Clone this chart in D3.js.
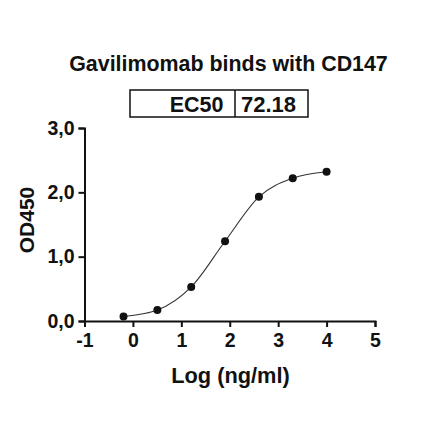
<!DOCTYPE html>
<html>
<head>
<meta charset="utf-8">
<script src="https://cdn.jsdelivr.net/npm/d3@7"></script>
<style>
  body { margin: 0; background: #fff; }
  text { font-family: "Liberation Sans", Arial, sans-serif; font-weight: bold; fill: #111; }
</style>
</head>
<body>
<div id="chart"></div>
<script>
// data: log10 of concentration (5-fold dilutions) and OD450
const logConc = [-0.194, 0.505, 1.204, 1.903, 2.602, 3.301, 4.0];
const od450 = [0.07, 0.17, 0.53, 1.24, 1.93, 2.22, 2.32];
const xTicks = [-1, 0, 1, 2, 3, 4, 5];
const yTicks = [0, 1, 2, 3];
const ec50Label = "EC50";
const ec50Value = "72.18";

const svg = d3.select("#chart")
  .append("svg")
  .attr("width", 440)
  .attr("height", 441);

const x = d3.scaleLinear().domain([-1, 5]).range([84.5, 375]);
const y = d3.scaleLinear().domain([0, 3]).range([321, 128]);

// title
svg.append("text")
  .attr("x", 228.5)
  .attr("y", 71)
  .attr("text-anchor", "middle")
  .style("font-size", "21.4px")
  .text("Gavilimomab binds with CD147");

// EC50 table
const box = svg.append("g");
box.append("rect")
  .attr("x", 130).attr("y", 90)
  .attr("width", 178).attr("height", 27)
  .attr("fill", "none").attr("stroke", "#111").attr("stroke-width", 1.5);
box.append("line")
  .attr("x1", 235).attr("x2", 235).attr("y1", 90).attr("y2", 117)
  .attr("stroke", "#111").attr("stroke-width", 1.5);
box.append("text")
  .attr("x", 223.5).attr("y", 112)
  .attr("text-anchor", "end")
  .style("font-size", "21.5px")
  .text(ec50Label);
box.append("text")
  .attr("x", 241).attr("y", 112)
  .style("font-size", "22px")
  .text(ec50Value);

// axes
const xAxis = svg.append("g")
  .attr("transform", "translate(0,321)")
  .call(d3.axisBottom(x).tickValues(xTicks).tickSize(6).tickPadding(6).tickFormat(d => String(d)));
const yAxis = svg.append("g")
  .attr("transform", "translate(84.5,0)")
  .call(d3.axisLeft(y).tickValues(yTicks).tickSize(6).tickPadding(4)
    .tickFormat(d => d.toFixed(1).replace(".", ",")));

[xAxis, yAxis].forEach(a => {
  a.select(".domain").attr("stroke", "#111").attr("stroke-width", 2);
  a.selectAll(".tick line").attr("stroke", "#111").attr("stroke-width", 2);
  a.selectAll(".tick text").style("font-size", "19.5px").attr("fill", "#111")
    .style("font-family", "'Liberation Sans', Arial, sans-serif").style("font-weight", "bold");
});

// axis titles
svg.append("text")
  .attr("x", 230.5)
  .attr("y", 383)
  .attr("text-anchor", "middle")
  .style("font-size", "21.8px")
  .text("Log (ng/ml)");
svg.append("text")
  .attr("transform", "translate(34,220) rotate(-90)")
  .attr("text-anchor", "middle")
  .style("font-size", "21px")
  .text("OD450");

// curve through the points
const pts = logConc.map((d, i) => [d, od450[i]]);
const line = d3.line()
  .x(d => x(d[0]))
  .y(d => y(d[1]))
  .curve(d3.curveMonotoneX);
svg.append("path")
  .datum(pts)
  .attr("d", line)
  .attr("fill", "none")
  .attr("stroke", "#333")
  .attr("stroke-width", 1.1);

svg.selectAll("circle")
  .data(pts)
  .enter()
  .append("circle")
  .attr("cx", d => x(d[0]))
  .attr("cy", d => y(d[1]))
  .attr("r", 4)
  .attr("fill", "#111");
</script>
</body>
</html>
